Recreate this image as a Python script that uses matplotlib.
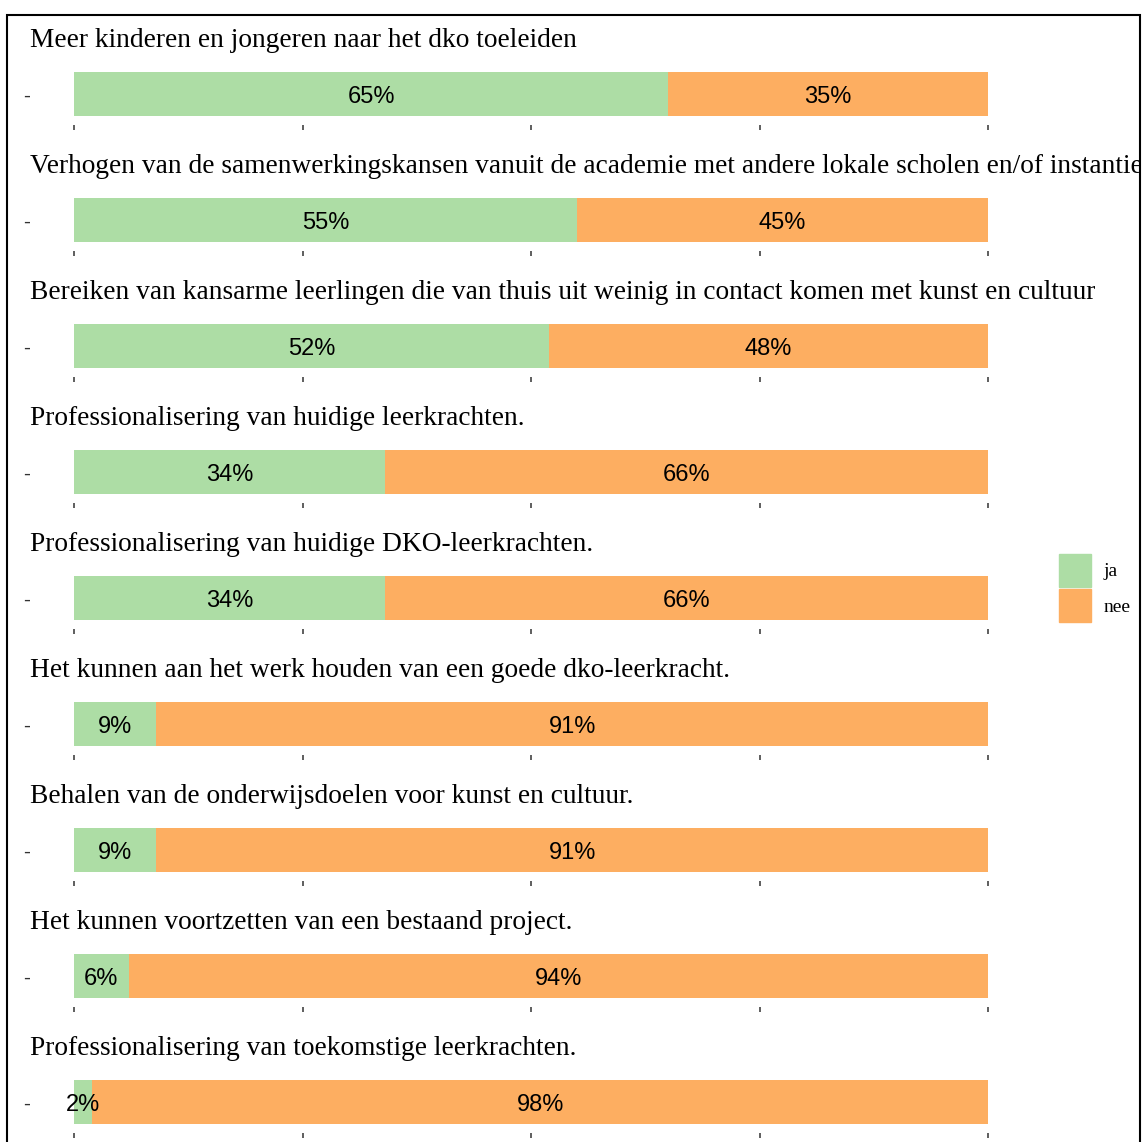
import matplotlib
matplotlib.use("Agg")
import matplotlib.pyplot as plt
import matplotlib.patches as mpatches

# ── Data ────────────────────────────────────────────────────────────────────
titles = [
    "Meer kinderen en jongeren naar het dko toeleiden",
    "Verhogen van de samenwerkingskansen vanuit de academie met andere lokale scholen en/of instanties",
    "Bereiken van kansarme leerlingen die van thuis uit weinig in contact komen met kunst en cultuur",
    "Professionalisering van huidige leerkrachten.",
    "Professionalisering van huidige DKO-leerkrachten.",
    "Het kunnen aan het werk houden van een goede dko-leerkracht.",
    "Behalen van de onderwijsdoelen voor kunst en cultuur.",
    "Het kunnen voortzetten van een bestaand project.",
    "Professionalisering van toekomstige leerkrachten.",
]
ja = [65, 55, 52, 34, 34, 9, 9, 6, 2]
nee = [35, 45, 48, 66, 66, 91, 91, 94, 98]
category = "-"
legend_labels = ["ja", "nee"]

GREEN = "#ADDDA5"
ORANGE = "#FDAE61"

# ── Layout (pixels) ─────────────────────────────────────────────────────────
W, H = 1143, 1142
fig = plt.figure(figsize=(W / 100, H / 100), dpi=100)

def fx(px):
    return px / W

def fy(py):
    return 1 - py / H

border = mpatches.Rectangle((fx(7), fy(1200)), fx(1140) - fx(7), fy(15) - fy(1200),
                            transform=fig.transFigure, fill=False,
                            edgecolor="black", linewidth=1.5)
fig.patches.append(border)

left, right = 74, 988
unit = 44 / 0.9          # pixels per y data unit (bar height 0.9 -> 44 px)
top_px, bot_px = 29.35, 31
lab_y = -9 / unit        # baseline of percentage labels

for i, (t, a, b) in enumerate(zip(titles, ja, nee)):
    cy = 94 + 126 * i
    ax = fig.add_axes([fx(left), fy(cy + bot_px), fx(right) - fx(left), (top_px + bot_px) / H])
    ax.barh([0], [a / 100], height=0.9, color=GREEN, left=0)
    ax.barh([0], [b / 100], height=0.9, color=ORANGE, left=a / 100)
    ax.text(a / 200, lab_y, f"{a}%", ha="center", va="baseline", fontsize=17,
            family="Liberation Sans", color="black")
    ax.text(a / 100 + b / 200, lab_y, f"{b}%", ha="center", va="baseline", fontsize=17,
            family="Liberation Sans", color="black")
    ax.set_xlim(0, 1)
    ax.set_ylim(-bot_px / unit, top_px / unit)
    ax.set_xticks([0, 0.25, 0.5, 0.75, 1])
    ax.set_xticklabels([])
    ax.tick_params(axis="x", length=3.8, width=1.1, color="#333333")
    ax.set_yticks([0])
    ax.set_yticklabels([category], family="Liberation Sans", fontsize=15, color="#333333")
    ax.tick_params(axis="y", length=0, pad=32)
    for s in ax.spines.values():
        s.set_visible(False)
    ax.patch.set_visible(False)

    txt = fig.text(fx(30), fy(cy - 47), t, ha="left", va="baseline",
                   fontsize=19.7, family="Liberation Serif", color="black")
    txt.set_clip_path(border)

handles = [mpatches.Patch(color=GREEN, label=legend_labels[0]),
           mpatches.Patch(color=ORANGE, label=legend_labels[1])]
fig.legend(handles=handles, loc="upper left", bbox_to_anchor=(fx(1059), fy(554)),
           frameon=False, borderpad=0, borderaxespad=0,
           handlelength=1.65, handleheight=2.2, labelspacing=0.15,
           handletextpad=0.65, prop={"family": "Liberation Serif", "size": 14})

fig.savefig("out.png", dpi=100)
